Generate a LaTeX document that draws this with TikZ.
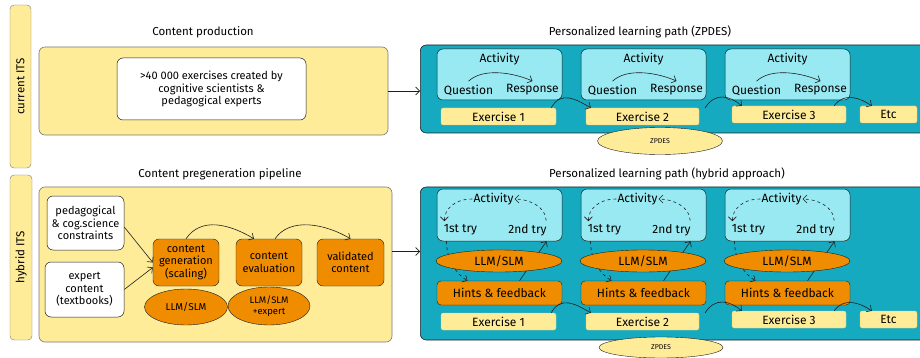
\documentclass[tikz,border=0pt]{standalone}
\usepackage{fontspec}
\setmainfont{Fira Sans}
\usepackage{tikz}
\usetikzlibrary{shapes,positioning,calc,arrows.meta}

\definecolor{padyellow}{HTML}{FFEC99}
\definecolor{pathteal}{HTML}{15AABF}
\definecolor{actcyan}{HTML}{99E9F2}
\definecolor{llmorange}{HTML}{F08C00}
\definecolor{ink}{HTML}{1E1E1E}

\tikzset{
    panel/.style={draw=ink!60, rounded corners=6pt, line width=0.6pt},
    sidebar/.style={rotate=90, draw=ink!60, fill=padyellow, rounded corners=4pt, font=\fontsize{11.5}{13}\selectfont},
    whitebox/.style={draw=ink, fill=white, rounded corners=6pt, align=center, inner sep=1pt, line width=0.5pt, font=\fontsize{11}{12.5}\selectfont},
    actbox/.style={draw=ink, fill=actcyan, rounded corners=6pt, line width=0.5pt},
    exbox/.style={fill=padyellow, draw=padyellow!85!black, line width=0.3pt, rounded corners=2pt, minimum height=17pt, inner sep=0pt},
    genbox/.style={draw=ink, fill=llmorange, rounded corners=6pt, align=center, inner sep=1pt, minimum width=66pt, minimum height=47pt, font=\fontsize{11}{12.5}\selectfont},
    hintbox/.style={draw=ink, fill=llmorange, rounded corners=4pt, minimum width=125pt, minimum height=24pt},
    llmell/.style={ellipse, draw=ink, fill=llmorange, align=center, inner sep=0pt},
    zpdesell/.style={ellipse, draw=ink, fill=padyellow, inner sep=0pt, font=\fontsize{7}{8}\selectfont},
    title/.style={font=\fontsize{11.5}{13}\selectfont},
    arr/.style={-{Straight Barb[length=4pt]}, draw=ink, line width=0.6pt},
    dasharr/.style={arr, dashed}
}

\begin{document}
\begin{tikzpicture}[x=1pt, y=-1pt, font=\fontsize{12}{14}\selectfont]
    \useasboundingbox (0,0) rectangle (920,358);

    % side labels
    \node[sidebar, minimum width=163pt, minimum height=21pt] (curITS) at (20.5,86.5) {current ITS};
    \node[sidebar, minimum width=165pt, minimum height=22pt] (hybITS) at (21,257.5) {hybrid ITS};

    % Content production
    \node[title] (prodTitle) at (203,32) {Content production};
    \node[panel, fill=padyellow, minimum width=349pt, minimum height=88pt] (prod) at (213.5,91) {};
    \node[whitebox, minimum width=189pt, minimum height=62pt] (bank) at (211.5,89) {>40 000 exercises created by\\cognitive scientists \&\\pedagogical experts};

    % Personalized learning path (ZPDES)
    \node[title] (zpdesTitle) at (640,32) {Personalized learning path (ZPDES)};
    \node[panel, draw=ink, fill=pathteal, minimum width=510pt, minimum height=88pt, anchor=west] (zpdes) at (420,89) {};
    \draw[arr] (prod.east) -- (prod.east -| zpdes.west);
    \foreach \i/\x in {1/499.5,2/643.5,3/787.5} {
        \node[actbox, minimum width=125pt, minimum height=51pt] (act\i) at (\x,74.5) {};
        \node (actTitle\i) at (\x,59) {Activity};
        \node (quest\i) at (\x-31,90) {Question};
        \node (resp\i) at (\x+33,90) {Response};
        \draw[arr] (quest\i.north) .. controls +(15,-14) and +(-18,-8) .. (resp\i.north);
    }
    \node[exbox, minimum width=115pt] (ex1) at (498.5,116.5) {Exercise 1};
    \node[exbox, minimum width=113pt] (ex2) at (642.5,116.5) {Exercise 2};
    \node[exbox, minimum width=114pt] (ex3) at (789,114.5) {Exercise 3};
    \node[exbox, minimum width=57pt] (etc) at (888.5,114.5) {Etc};
    \draw[arr] ([xshift=-5pt]ex1.north east) .. controls +(10,-18) and +(-14,-8) .. ([xshift=5pt]ex2.north west);
    \draw[arr] ([xshift=6pt]ex2.north east) .. controls +(10,-16) and +(-12,-10) .. ([xshift=10pt]ex3.north west);
    \draw[arr] ([xshift=-12pt]ex3.north east) .. controls +(10,-14) and +(-12,-8) .. ([xshift=12pt]etc.north west);
    \node[zpdesell, minimum width=125pt, minimum height=27pt] (zpdesAlgo) at (660,141) {ZPDES};

    % Content pregeneration pipeline
    \node[title] (pipeTitle) at (220,174) {Content pregeneration pipeline};
    \node[panel, fill=padyellow, minimum width=353pt, minimum height=155pt] (pipe) at (215.5,264.5) {};
    \node[whitebox, minimum width=77pt, minimum height=54pt] (constr) at (85.5,223) {pedagogical\\\& cog.science\\constraints};
    \node[whitebox, minimum width=79pt, minimum height=55pt] (expert) at (84.5,289.5) {expert\\content\\(textbooks)};
    \node[genbox] (gen) at (186,262.5) {content\\generation\\(scaling)};
    \node[genbox] (eval) at (269,262.5) {content\\evaluation};
    \node[genbox, minimum width=67pt] (valid) at (350.5,262.5) {validated\\content};
    \node[llmell, minimum width=83pt, minimum height=36pt, font=\fontsize{10}{11}\selectfont] (genLLM) at (186,307) {LLM/SLM};
    \node[llmell, minimum width=82pt, minimum height=38pt, font=\fontsize{9.5}{10.5}\selectfont] (evalLLM) at (269,306) {LLM/SLM\\+expert};
    \draw[arr] ([yshift=-4pt]constr.east) -- (gen.west);
    \draw[arr] (expert.east) -- ([yshift=-5pt]gen.west);
    \draw[arr] (gen.north) .. controls +(15,-22) and +(-25,-15) .. ([xshift=-15pt]eval.north);
    \draw[arr] ([xshift=6pt]eval.north) .. controls +(15,-22) and +(-25,-15) .. (valid.north);

    % Personalized learning path (hybrid approach)
    \node[title] (hybTitle) at (667,174) {Personalized learning path (hybrid approach)};
    \node[panel, draw=ink, fill=pathteal, minimum width=510pt, minimum height=153pt, anchor=west] (hybrid) at (420,263.5) {};
    \coordinate (pipeOut) at ([yshift=13pt]pipe.east);
    \draw[arr] (pipeOut) -- (pipeOut -| hybrid.west);
    \foreach \i/\x in {1/499.5,2/643.5,3/787.5} {
        \node[actbox, minimum width=125pt, minimum height=52pt] (hact\i) at (\x,215) {};
        \node[inner sep=1pt] (hactTitle\i) at (\x-6,199) {Activity};
        \node (tryA\i) at (\x-39,230) {1st try};
        \node (tryB\i) at (\x+28,230) {2nd try};
        \node[hintbox] (hint\i) at (\x,293) {Hints \& feedback};
        \draw[dasharr] (hactTitle\i.west) .. controls +(-18,0) and +(0,-12) .. ([xshift=4pt]tryA\i.north west);
        \draw[dasharr] ([xshift=-4pt]tryB\i.north east) .. controls +(0,-14) and +(14,0) .. (hactTitle\i.east);
        \draw[dasharr] ([xshift=-53pt]hact\i.south) .. controls +(0,20) and +(-10,-6) .. ([xshift=-32pt]hint\i.north);
        \draw[arr] ([xshift=20pt]hint\i.north) -- ([xshift=47pt]hact\i.south);
        \node[llmell, minimum width=126pt, minimum height=22pt] (hLLM\i) at (\x-0.5,261) {LLM/SLM};
    }
    \node[exbox, minimum width=115pt] (hex1) at (498.5,321.5) {Exercise 1};
    \node[exbox, minimum width=113pt] (hex2) at (642.5,321.5) {Exercise 2};
    \node[exbox, minimum width=114pt] (hex3) at (789,319.5) {Exercise 3};
    \node[exbox, minimum width=57pt] (hetc) at (888.5,319.5) {Etc};
    \draw[arr] ([xshift=-5pt]hex1.north east) .. controls +(10,-18) and +(-14,-8) .. ([xshift=5pt]hex2.north west);
    \draw[arr] ([xshift=6pt]hex2.north east) .. controls +(10,-16) and +(-12,-10) .. ([xshift=10pt]hex3.north west);
    \draw[arr] ([xshift=-12pt]hex3.north east) .. controls +(10,-14) and +(-12,-8) .. ([xshift=12pt]hetc.north west);
    \node[zpdesell, minimum width=124pt, minimum height=21pt] (hzpdesAlgo) at (661,347.5) {ZPDES};
\end{tikzpicture}
\end{document}
